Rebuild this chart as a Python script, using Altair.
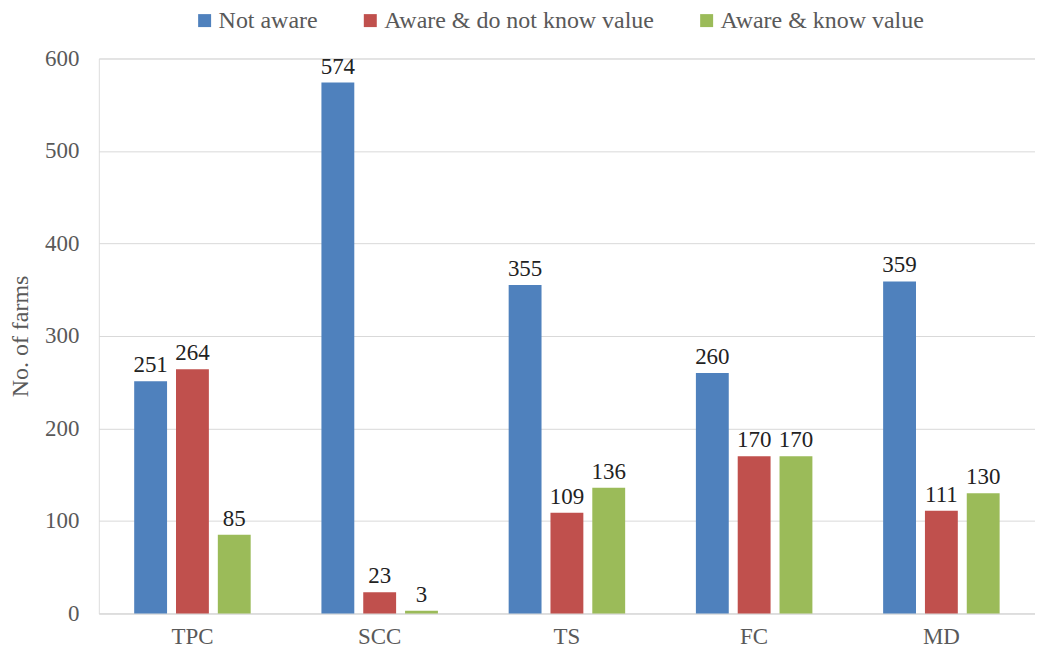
import altair as alt
import pandas as pd

categories = ["TPC", "SCC", "TS", "FC", "MD"]
series = ["Not aware", "Aware & do not know value", "Aware & know value"]
not_aware = [251, 574, 355, 260, 359]
aware_not_know = [264, 23, 109, 170, 111]
aware_know = [85, 3, 136, 170, 130]
colors = ["#4F81BD", "#C0504D", "#9BBB59"]

rows = []
for i, c in enumerate(categories):
    for s, vals in zip(series, [not_aware, aware_not_know, aware_know]):
        rows.append({"cat": c, "series": s, "value": vals[i]})
df = pd.DataFrame(rows)

FONT = "Liberation Serif"

base = alt.Chart(df).encode(
    x=alt.X("cat:N", sort=categories, title=None,
            scale=alt.Scale(paddingInner=0.33, paddingOuter=0.165),
            axis=alt.Axis(labelAngle=0, ticks=False, grid=False, domainColor="#d9d9d9",
                          labelFontSize=23, labelColor="#595959", labelFont=FONT,
                          labelPadding=12)),
    xOffset=alt.XOffset("series:N", sort=series,
                        scale=alt.Scale(paddingInner=0.214, paddingOuter=0.107)),
    y=alt.Y("value:Q", title="No. of farms",
            scale=alt.Scale(domain=[0, 600], nice=False),
            axis=alt.Axis(values=[0, 100, 200, 300, 400, 500, 600], ticks=False,
                          grid=True, domain=False, gridColor="#d9d9d9", labelFontSize=23,
                          labelColor="#595959", labelFont=FONT, labelPadding=20,
                          titleFont=FONT, titleFontSize=24, titleColor="#595959",
                          titleFontWeight="normal", titlePadding=12)),
)

bars = base.mark_bar().encode(
    color=alt.Color("series:N", sort=series,
                    scale=alt.Scale(domain=series, range=colors),
                    legend=alt.Legend(title=None, orient="none", direction="horizontal",
                                      legendX=94, legendY=-50, symbolType="square",
                                      symbolSize=169, symbolOpacity=1,
                                      labelFont=FONT, labelFontSize=24, labelLimit=0,
                                      labelColor="#595959", columnPadding=40,
                                      symbolStrokeWidth=0, labelOffset=2))
)

labels = base.mark_text(dy=-16, font=FONT, fontSize=23, color="#222222").encode(
    text="value:Q"
)

chart = (bars + labels).properties(
    width=938, height=556,
    padding={"left": 0, "top": 0, "right": 0, "bottom": 2},
).configure_view(stroke=None).configure(background="white")

chart.save("out.html", embed_options={"renderer": "svg", "actions": False})
